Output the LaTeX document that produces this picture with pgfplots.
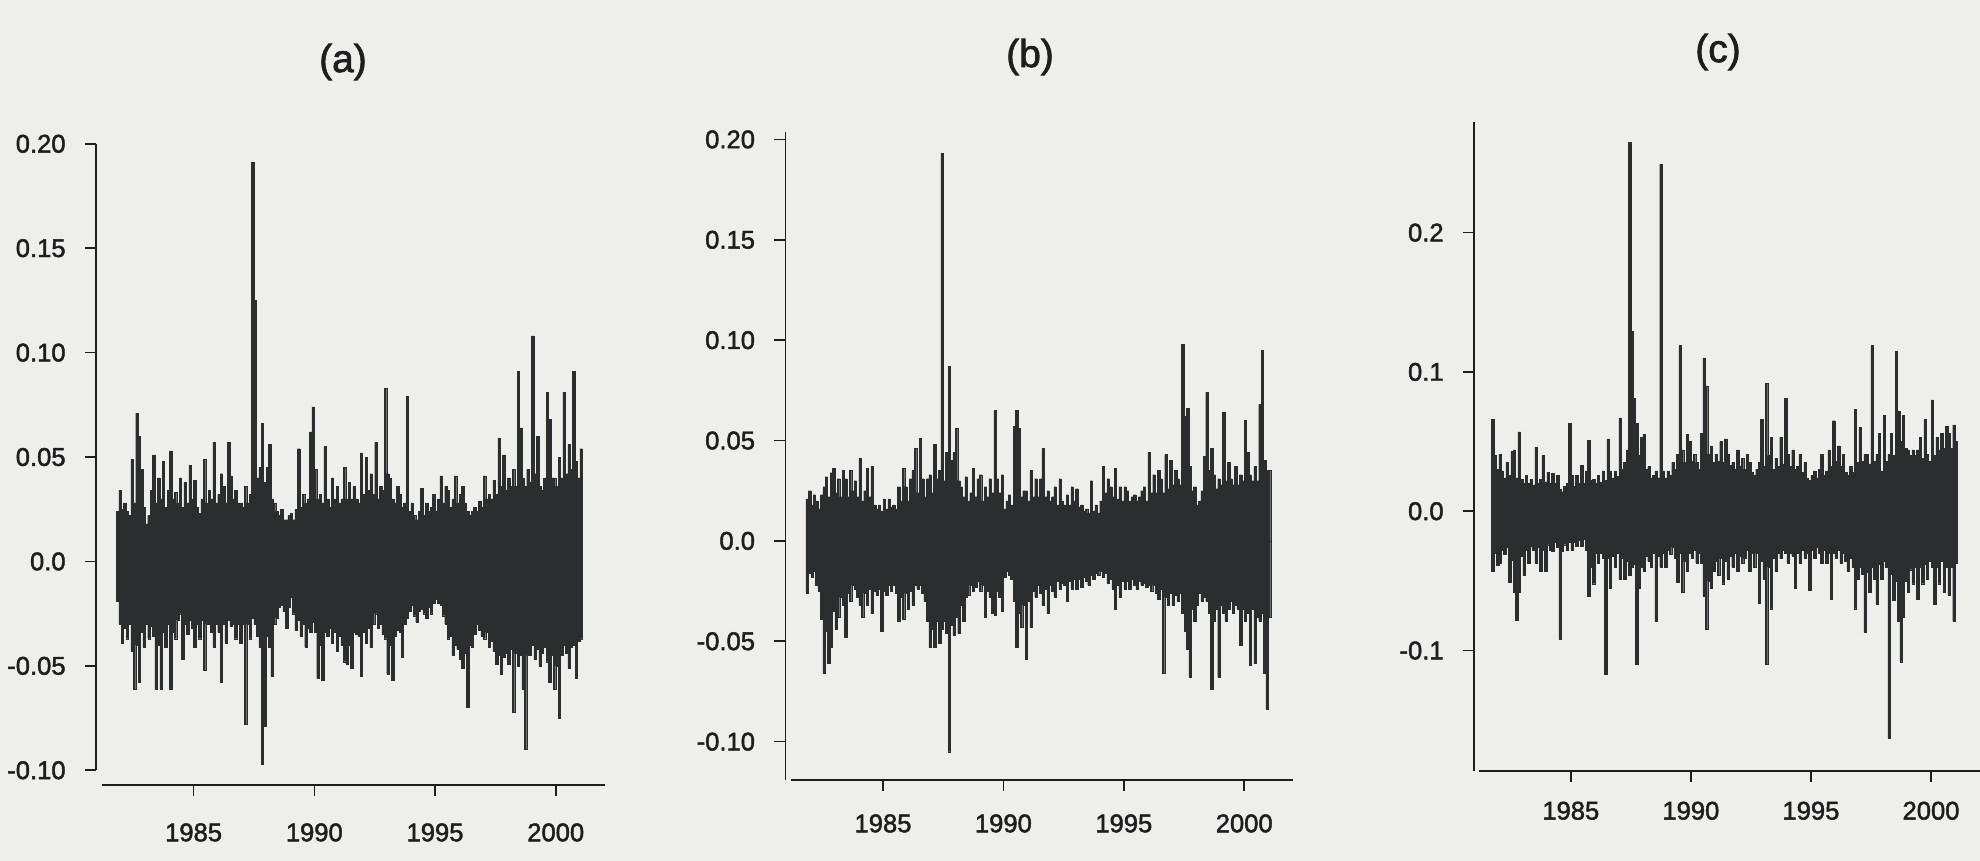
\documentclass[border=0pt]{standalone}
\usepackage{pgfplots}
\pgfplotsset{compat=1.18}
\usepackage{pgfplotstable}
\usepackage{fontspec}
\setmainfont{Liberation Sans}
\newfontface\lblfont{Liberation Sans}[FakeBold=1.8]
\definecolor{paper}{RGB}{238,238,234}
\definecolor{ink}{RGB}{42,46,46}
\definecolor{txt}{RGB}{30,30,30}

\pgfplotstableread{
x hi lo
1981.8 0.024 -0.019
1981.9 0.034 -0.030
1982.0 0.025 -0.039
1982.1 0.028 -0.032
1982.2 0.024 -0.037
1982.3 0.022 -0.030
1982.4 0.049 -0.043
1982.5 0.028 -0.061
1982.6 0.071 -0.040
1982.7 0.060 -0.058
1982.8 0.044 -0.034
1982.9 0.026 -0.041
1983.0 0.018 -0.030
1983.1 0.022 -0.037
1983.2 0.034 -0.031
1983.3 0.051 -0.036
1983.4 0.028 -0.061
1983.5 0.040 -0.040
1983.6 0.030 -0.061
1983.7 0.048 -0.034
1983.8 0.026 -0.041
1983.9 0.034 -0.030
1984.0 0.053 -0.061
1984.1 0.030 -0.034
1984.2 0.033 -0.037
1984.3 0.028 -0.028
1984.4 0.040 -0.025
1984.5 0.026 -0.047
1984.6 0.038 -0.030
1984.7 0.028 -0.035
1984.8 0.046 -0.028
1984.9 0.030 -0.032
1985.0 0.039 -0.041
1985.1 0.026 -0.030
1985.2 0.023 -0.037
1985.3 0.030 -0.028
1985.4 0.049 -0.052
1985.5 0.028 -0.030
1985.6 0.034 -0.030
1985.7 0.030 -0.034
1985.8 0.057 -0.041
1985.9 0.028 -0.030
1986.0 0.032 -0.034
1986.1 0.042 -0.058
1986.2 0.036 -0.030
1986.3 0.028 -0.039
1986.4 0.057 -0.028
1986.5 0.041 -0.031
1986.6 0.030 -0.030
1986.7 0.034 -0.037
1986.8 0.028 -0.030
1986.9 0.028 -0.039
1987.0 0.026 -0.030
1987.1 0.036 -0.078
1987.2 0.028 -0.030
1987.3 0.032 -0.037
1987.4 0.191 -0.027
1987.5 0.125 -0.030
1987.6 0.040 -0.036
1987.7 0.045 -0.041
1987.8 0.066 -0.097
1987.9 0.038 -0.079
1988.0 0.045 -0.036
1988.1 0.056 -0.041
1988.2 0.030 -0.055
1988.3 0.028 -0.030
1988.4 0.024 -0.027
1988.5 0.022 -0.022
1988.6 0.025 -0.021
1988.7 0.020 -0.024
1988.8 0.020 -0.032
1988.9 0.022 -0.022
1989.0 0.023 -0.017
1989.1 0.020 -0.025
1989.2 0.025 -0.033
1989.3 0.054 -0.028
1989.4 0.026 -0.036
1989.5 0.032 -0.030
1989.6 0.028 -0.041
1989.7 0.030 -0.032
1989.8 0.062 -0.034
1989.9 0.074 -0.029
1990.0 0.044 -0.034
1990.1 0.030 -0.056
1990.2 0.032 -0.040
1990.3 0.028 -0.057
1990.4 0.055 -0.034
1990.5 0.030 -0.036
1990.6 0.026 -0.032
1990.7 0.040 -0.039
1990.8 0.030 -0.034
1990.9 0.036 -0.043
1991.0 0.028 -0.036
1991.1 0.030 -0.040
1991.2 0.045 -0.048
1991.3 0.030 -0.049
1991.4 0.038 -0.040
1991.5 0.030 -0.051
1991.6 0.036 -0.034
1991.7 0.030 -0.035
1991.8 0.028 -0.036
1991.9 0.052 -0.055
1992.0 0.032 -0.034
1992.1 0.050 -0.039
1992.2 0.034 -0.032
1992.3 0.042 -0.041
1992.4 0.032 -0.030
1992.5 0.057 -0.025
1992.6 0.030 -0.032
1992.7 0.036 -0.030
1992.8 0.034 -0.035
1992.9 0.083 -0.037
1993.0 0.042 -0.054
1993.1 0.040 -0.040
1993.2 0.030 -0.057
1993.3 0.028 -0.036
1993.4 0.036 -0.033
1993.5 0.032 -0.034
1993.6 0.026 -0.046
1993.7 0.028 -0.030
1993.8 0.079 -0.027
1993.9 0.024 -0.024
1994.0 0.028 -0.021
1994.1 0.022 -0.026
1994.2 0.020 -0.029
1994.3 0.024 -0.024
1994.4 0.035 -0.023
1994.5 0.022 -0.025
1994.6 0.028 -0.027
1994.7 0.024 -0.022
1994.8 0.026 -0.025
1994.9 0.032 -0.020
1995.0 0.024 -0.018
1995.1 0.030 -0.020
1995.2 0.041 -0.021
1995.3 0.028 -0.026
1995.4 0.036 -0.030
1995.5 0.034 -0.037
1995.6 0.026 -0.036
1995.7 0.030 -0.045
1995.8 0.041 -0.040
1995.9 0.028 -0.042
1996.0 0.032 -0.047
1996.1 0.036 -0.051
1996.2 0.028 -0.044
1996.3 0.024 -0.070
1996.4 0.022 -0.040
1996.5 0.024 -0.041
1996.6 0.026 -0.035
1996.7 0.024 -0.030
1996.8 0.029 -0.033
1996.9 0.026 -0.036
1997.0 0.041 -0.037
1997.1 0.030 -0.034
1997.2 0.032 -0.041
1997.3 0.030 -0.038
1997.4 0.039 -0.043
1997.5 0.032 -0.049
1997.6 0.059 -0.045
1997.7 0.036 -0.054
1997.8 0.051 -0.046
1997.9 0.034 -0.044
1998.0 0.040 -0.049
1998.1 0.036 -0.042
1998.2 0.044 -0.072
1998.3 0.036 -0.044
1998.4 0.091 -0.050
1998.5 0.064 -0.045
1998.6 0.040 -0.061
1998.7 0.036 -0.090
1998.8 0.044 -0.045
1998.9 0.038 -0.045
1999.0 0.108 -0.040
1999.1 0.042 -0.047
1999.2 0.060 -0.042
1999.3 0.036 -0.050
1999.4 0.034 -0.044
1999.5 0.040 -0.041
1999.6 0.081 -0.048
1999.7 0.068 -0.058
1999.8 0.040 -0.045
1999.9 0.040 -0.061
2000.0 0.036 -0.050
2000.1 0.050 -0.075
2000.2 0.040 -0.045
2000.3 0.081 -0.040
2000.4 0.042 -0.044
2000.5 0.056 -0.051
2000.6 0.044 -0.041
2000.7 0.091 -0.040
2000.8 0.048 -0.056
2000.9 0.040 -0.038
2001.0 0.054 -0.037
2001.1 0.000 0.000
}\dataA

\pgfplotstableread{
x hi lo
1981.8 0.021 -0.026
1981.9 0.025 -0.016
1982.0 0.018 -0.018
1982.1 0.023 -0.015
1982.2 0.020 -0.022
1982.3 0.016 -0.025
1982.4 0.023 -0.039
1982.5 0.027 -0.066
1982.6 0.032 -0.045
1982.7 0.022 -0.061
1982.8 0.034 -0.053
1982.9 0.036 -0.035
1983.0 0.024 -0.044
1983.1 0.031 -0.038
1983.2 0.022 -0.028
1983.3 0.035 -0.032
1983.4 0.031 -0.048
1983.5 0.022 -0.026
1983.6 0.035 -0.030
1983.7 0.025 -0.022
1983.8 0.030 -0.024
1983.9 0.022 -0.028
1984.0 0.041 -0.032
1984.1 0.020 -0.038
1984.2 0.025 -0.026
1984.3 0.036 -0.032
1984.4 0.022 -0.024
1984.5 0.037 -0.036
1984.6 0.018 -0.025
1984.7 0.016 -0.027
1984.8 0.018 -0.024
1984.9 0.015 -0.045
1985.0 0.021 -0.025
1985.1 0.016 -0.027
1985.2 0.021 -0.022
1985.3 0.017 -0.025
1985.4 0.018 -0.022
1985.5 0.016 -0.026
1985.6 0.027 -0.040
1985.7 0.020 -0.028
1985.8 0.036 -0.039
1985.9 0.027 -0.026
1986.0 0.020 -0.034
1986.1 0.031 -0.025
1986.2 0.035 -0.032
1986.3 0.046 -0.022
1986.4 0.024 -0.024
1986.5 0.051 -0.022
1986.6 0.031 -0.026
1986.7 0.022 -0.030
1986.8 0.031 -0.040
1986.9 0.033 -0.053
1987.0 0.024 -0.044
1987.1 0.048 -0.053
1987.2 0.031 -0.040
1987.3 0.035 -0.051
1987.4 0.193 -0.044
1987.5 0.030 -0.040
1987.6 0.044 -0.046
1987.7 0.087 -0.105
1987.8 0.040 -0.042
1987.9 0.044 -0.047
1988.0 0.056 -0.038
1988.1 0.030 -0.046
1988.2 0.027 -0.032
1988.3 0.022 -0.040
1988.4 0.032 -0.028
1988.5 0.020 -0.027
1988.6 0.024 -0.022
1988.7 0.036 -0.025
1988.8 0.022 -0.023
1988.9 0.031 -0.020
1989.0 0.033 -0.025
1989.1 0.020 -0.022
1989.2 0.027 -0.038
1989.3 0.022 -0.025
1989.4 0.031 -0.028
1989.5 0.024 -0.036
1989.6 0.065 -0.037
1989.7 0.031 -0.025
1989.8 0.024 -0.028
1989.9 0.033 -0.035
1990.0 0.016 -0.018
1990.1 0.020 -0.015
1990.2 0.023 -0.017
1990.3 0.018 -0.019
1990.4 0.057 -0.030
1990.5 0.065 -0.053
1990.6 0.056 -0.036
1990.7 0.022 -0.043
1990.8 0.025 -0.032
1990.9 0.025 -0.059
1991.0 0.020 -0.030
1991.1 0.035 -0.043
1991.2 0.022 -0.025
1991.3 0.031 -0.028
1991.4 0.022 -0.022
1991.5 0.031 -0.026
1991.6 0.046 -0.032
1991.7 0.022 -0.024
1991.8 0.025 -0.036
1991.9 0.020 -0.022
1992.0 0.022 -0.025
1992.1 0.027 -0.028
1992.2 0.018 -0.020
1992.3 0.031 -0.024
1992.4 0.020 -0.021
1992.5 0.018 -0.022
1992.6 0.023 -0.030
1992.7 0.018 -0.020
1992.8 0.027 -0.024
1992.9 0.020 -0.019
1993.0 0.026 -0.024
1993.1 0.017 -0.019
1993.2 0.018 -0.023
1993.3 0.015 -0.018
1993.4 0.016 -0.020
1993.5 0.014 -0.022
1993.6 0.030 -0.017
1993.7 0.015 -0.019
1993.8 0.018 -0.016
1993.9 0.014 -0.017
1994.0 0.020 -0.015
1994.1 0.037 -0.018
1994.2 0.024 -0.016
1994.3 0.031 -0.021
1994.4 0.027 -0.019
1994.5 0.022 -0.024
1994.6 0.036 -0.034
1994.7 0.021 -0.022
1994.8 0.027 -0.028
1994.9 0.020 -0.020
1995.0 0.027 -0.024
1995.1 0.025 -0.020
1995.2 0.020 -0.024
1995.3 0.022 -0.019
1995.4 0.023 -0.022
1995.5 0.020 -0.024
1995.6 0.022 -0.020
1995.7 0.025 -0.022
1995.8 0.027 -0.021
1995.9 0.020 -0.023
1996.0 0.044 -0.022
1996.1 0.024 -0.025
1996.2 0.033 -0.022
1996.3 0.024 -0.026
1996.4 0.035 -0.029
1996.5 0.031 -0.024
1996.6 0.024 -0.066
1996.7 0.043 -0.028
1996.8 0.026 -0.032
1996.9 0.040 -0.026
1997.0 0.028 -0.032
1997.1 0.035 -0.027
1997.2 0.031 -0.030
1997.3 0.028 -0.026
1997.4 0.098 -0.036
1997.5 0.062 -0.045
1997.6 0.066 -0.054
1997.7 0.037 -0.068
1997.8 0.025 -0.034
1997.9 0.027 -0.040
1998.0 0.018 -0.032
1998.1 0.020 -0.026
1998.2 0.025 -0.030
1998.3 0.042 -0.028
1998.4 0.074 -0.030
1998.5 0.035 -0.036
1998.6 0.046 -0.074
1998.7 0.033 -0.040
1998.8 0.026 -0.034
1998.9 0.031 -0.068
1999.0 0.028 -0.032
1999.1 0.064 -0.036
1999.2 0.030 -0.040
1999.3 0.039 -0.034
1999.4 0.031 -0.030
1999.5 0.028 -0.036
1999.6 0.037 -0.032
1999.7 0.028 -0.034
1999.8 0.033 -0.052
1999.9 0.030 -0.034
2000.0 0.060 -0.040
2000.1 0.044 -0.036
2000.2 0.033 -0.062
2000.3 0.030 -0.034
2000.4 0.037 -0.061
2000.5 0.030 -0.038
2000.6 0.068 -0.040
2000.7 0.095 -0.036
2000.8 0.040 -0.066
2000.9 0.035 -0.084
2001.0 0.035 -0.038
2001.1 0.000 0.000
}\dataB

\pgfplotstableread{
x hi lo
1981.7 0.066 -0.043
1981.8 0.040 -0.030
1981.9 0.030 -0.039
1982.0 0.041 -0.037
1982.1 0.029 -0.028
1982.2 0.024 -0.031
1982.3 0.035 -0.026
1982.4 0.026 -0.051
1982.5 0.043 -0.035
1982.6 0.044 -0.058
1982.7 0.024 -0.078
1982.8 0.057 -0.058
1982.9 0.023 -0.032
1983.0 0.020 -0.046
1983.1 0.026 -0.028
1983.2 0.020 -0.037
1983.3 0.023 -0.025
1983.4 0.019 -0.028
1983.5 0.046 -0.037
1983.6 0.020 -0.026
1983.7 0.023 -0.043
1983.8 0.040 -0.028
1983.9 0.021 -0.043
1984.0 0.028 -0.024
1984.1 0.020 -0.028
1984.2 0.027 -0.029
1984.3 0.020 -0.022
1984.4 0.026 -0.026
1984.5 0.016 -0.092
1984.6 0.014 -0.029
1984.7 0.018 -0.024
1984.8 0.020 -0.028
1984.9 0.063 -0.022
1985.0 0.026 -0.028
1985.1 0.018 -0.022
1985.2 0.026 -0.025
1985.3 0.020 -0.021
1985.4 0.033 -0.025
1985.5 0.020 -0.020
1985.6 0.029 -0.028
1985.7 0.051 -0.061
1985.8 0.022 -0.040
1985.9 0.023 -0.052
1986.0 0.020 -0.030
1986.1 0.026 -0.037
1986.2 0.021 -0.030
1986.3 0.029 -0.034
1986.4 0.022 -0.117
1986.5 0.052 -0.034
1986.6 0.029 -0.055
1986.7 0.024 -0.032
1986.8 0.029 -0.040
1986.9 0.025 -0.030
1987.0 0.067 -0.049
1987.1 0.030 -0.034
1987.2 0.035 -0.049
1987.3 0.044 -0.036
1987.4 0.265 -0.046
1987.5 0.129 -0.040
1987.6 0.081 -0.038
1987.7 0.063 -0.110
1987.8 0.040 -0.055
1987.9 0.053 -0.040
1988.0 0.055 -0.043
1988.1 0.030 -0.032
1988.2 0.032 -0.036
1988.3 0.024 -0.040
1988.4 0.026 -0.030
1988.5 0.029 -0.079
1988.6 0.024 -0.032
1988.7 0.249 -0.040
1988.8 0.029 -0.030
1988.9 0.024 -0.040
1989.0 0.029 -0.028
1989.1 0.026 -0.031
1989.2 0.035 -0.026
1989.3 0.030 -0.034
1989.4 0.041 -0.051
1989.5 0.119 -0.030
1989.6 0.044 -0.058
1989.7 0.035 -0.036
1989.8 0.055 -0.043
1989.9 0.050 -0.030
1990.0 0.036 -0.034
1990.1 0.041 -0.028
1990.2 0.035 -0.037
1990.3 0.030 -0.030
1990.4 0.056 -0.037
1990.5 0.110 -0.061
1990.6 0.090 -0.085
1990.7 0.041 -0.050
1990.8 0.047 -0.055
1990.9 0.035 -0.043
1991.0 0.041 -0.036
1991.1 0.036 -0.046
1991.2 0.050 -0.034
1991.3 0.035 -0.052
1991.4 0.052 -0.036
1991.5 0.041 -0.049
1991.6 0.033 -0.032
1991.7 0.035 -0.040
1991.8 0.030 -0.030
1991.9 0.044 -0.043
1992.0 0.032 -0.032
1992.1 0.038 -0.037
1992.2 0.030 -0.034
1992.3 0.041 -0.028
1992.4 0.035 -0.043
1992.5 0.028 -0.030
1992.6 0.026 -0.040
1992.7 0.030 -0.030
1992.8 0.035 -0.066
1992.9 0.066 -0.036
1993.0 0.032 -0.049
1993.1 0.092 -0.110
1993.2 0.040 -0.040
1993.3 0.053 -0.070
1993.4 0.030 -0.034
1993.5 0.038 -0.043
1993.6 0.032 -0.030
1993.7 0.053 -0.034
1993.8 0.034 -0.028
1993.9 0.081 -0.030
1994.0 0.041 -0.037
1994.1 0.032 -0.030
1994.2 0.044 -0.032
1994.3 0.030 -0.055
1994.4 0.032 -0.030
1994.5 0.041 -0.037
1994.6 0.028 -0.028
1994.7 0.035 -0.034
1994.8 0.024 -0.030
1994.9 0.022 -0.057
1995.0 0.026 -0.028
1995.1 0.029 -0.034
1995.2 0.024 -0.026
1995.3 0.030 -0.030
1995.4 0.041 -0.037
1995.5 0.026 -0.028
1995.6 0.029 -0.037
1995.7 0.044 -0.030
1995.8 0.032 -0.063
1995.9 0.065 -0.030
1996.0 0.036 -0.034
1996.1 0.047 -0.028
1996.2 0.032 -0.037
1996.3 0.041 -0.030
1996.4 0.028 -0.036
1996.5 0.026 -0.043
1996.6 0.032 -0.034
1996.7 0.028 -0.040
1996.8 0.073 -0.070
1996.9 0.035 -0.049
1997.0 0.060 -0.040
1997.1 0.036 -0.045
1997.2 0.041 -0.087
1997.3 0.041 -0.044
1997.4 0.034 -0.058
1997.5 0.119 -0.040
1997.6 0.036 -0.049
1997.7 0.041 -0.067
1997.8 0.056 -0.038
1997.9 0.029 -0.049
1998.0 0.069 -0.036
1998.1 0.036 -0.040
1998.2 0.041 -0.163
1998.3 0.056 -0.045
1998.4 0.040 -0.064
1998.5 0.115 -0.050
1998.6 0.072 -0.079
1998.7 0.050 -0.108
1998.8 0.069 -0.076
1998.9 0.045 -0.050
1999.0 0.044 -0.058
1999.1 0.040 -0.042
1999.2 0.044 -0.052
1999.3 0.040 -0.040
1999.4 0.044 -0.063
1999.5 0.053 -0.040
1999.6 0.038 -0.052
1999.7 0.066 -0.038
1999.8 0.041 -0.049
1999.9 0.036 -0.036
2000.0 0.080 -0.040
2000.1 0.040 -0.067
2000.2 0.053 -0.040
2000.3 0.044 -0.052
2000.4 0.056 -0.036
2000.5 0.045 -0.058
2000.6 0.061 -0.040
2000.7 0.056 -0.060
2000.8 0.045 -0.040
2000.9 0.062 -0.079
2001.0 0.050 -0.037
2001.1 0.000 0.000
}\dataC

\pgfplotsset{
  panel/.style={
    scale only axis,
    anchor=south west,
    clip=false,
    axis x line=bottom,
    axis y line=left,
    axis line style={draw=none},
    tick align=outside,
    major tick length=5.5pt,
    tick style={txt, line width=0.8pt},
    xtick={1985,1990,1995,2000},
    xticklabels={1985,1990,1995,2000},
    ticklabel style={font=\lblfont\fontsize{12.8}{14}\selectfont, text=txt, inner sep=0pt},
    yticklabel shift=9.5pt,
    minor tick num=0,
  },
  band/.style={ybar interval, fill=ink, draw=ink, line width=0.15pt, forget plot},
}

\begin{document}
\begin{tikzpicture}
\useasboundingbox (0,0) rectangle (990pt,430.5pt);
\fill[paper] (0,0) rectangle (990pt,430.5pt);

% ---------- (a)
\begin{axis}[panel,
  at={(48pt,38pt)}, width=254.6pt, height=320.6pt,
  xmin=1980.957, xmax=2002.05, ymin=-0.10705, ymax=0.20,
  ytick={-0.10,-0.05,0,0.05,0.10,0.15,0.20},
  yticklabels={-0.10,-0.05,0.0,0.05,0.10,0.15,0.20},
  xticklabel shift=13.5pt]
\addplot[band] table[x=x,y=hi] {\dataA};
\addplot[band] table[x=x,y=lo] {\dataA};
\draw[txt, line width=0.8pt] (axis cs:1980.957,-0.10) -- (axis cs:1980.957,0.20);
\draw[txt, line width=0.8pt] (axis cs:1981.20,-0.10705) -- (axis cs:2002.05,-0.10705);
\end{axis}

% ---------- (b)
\begin{axis}[panel,
  at={(392.7pt,40.5pt)}, width=253.6pt, height=324.1pt,
  xmin=1980.947, xmax=2002.01, ymin=-0.1191, ymax=0.2038,
  ytick={-0.10,-0.05,0,0.05,0.10,0.15,0.20},
  yticklabels={-0.10,-0.05,0.0,0.05,0.10,0.15,0.20},
  xticklabel shift=11.5pt]
\addplot[band] table[x=x,y=hi] {\dataB};
\addplot[band] table[x=x,y=lo] {\dataB};
\draw[txt, line width=0.8pt] (axis cs:1980.947,-0.1191) -- (axis cs:1980.947,0.2038);
\draw[txt, line width=0.8pt] (axis cs:1981.16,-0.1191) -- (axis cs:2002.01,-0.1191);
\end{axis}

% ---------- (c)
\begin{axis}[panel,
  at={(737pt,44.85pt)}, width=253pt, height=324.7pt,
  xmin=1980.97, xmax=2002.04, ymin=-0.1867, ymax=0.2795,
  ytick={-0.1,0,0.1,0.2},
  yticklabels={-0.1,0.0,0.1,0.2},
  xticklabel shift=9.5pt]
\addplot[band] table[x=x,y=hi] {\dataC};
\addplot[band] table[x=x,y=lo] {\dataC};
\draw[txt, line width=0.8pt] (axis cs:1980.97,-0.1867) -- (axis cs:1980.97,0.2795);
\draw[txt, line width=0.8pt] (axis cs:1981.18,-0.1867) -- (axis cs:2002.04,-0.1867);
\end{axis}

\node[font=\lblfont\fontsize{19.5}{22}\selectfont, text=txt] at (171.5pt,399.5pt) {(a)};
\node[font=\lblfont\fontsize{19.5}{22}\selectfont, text=txt] at (515pt,402pt) {(b)};
\node[font=\lblfont\fontsize{19.5}{22}\selectfont, text=txt] at (859pt,404.5pt) {(c)};
\end{tikzpicture}
\end{document}
